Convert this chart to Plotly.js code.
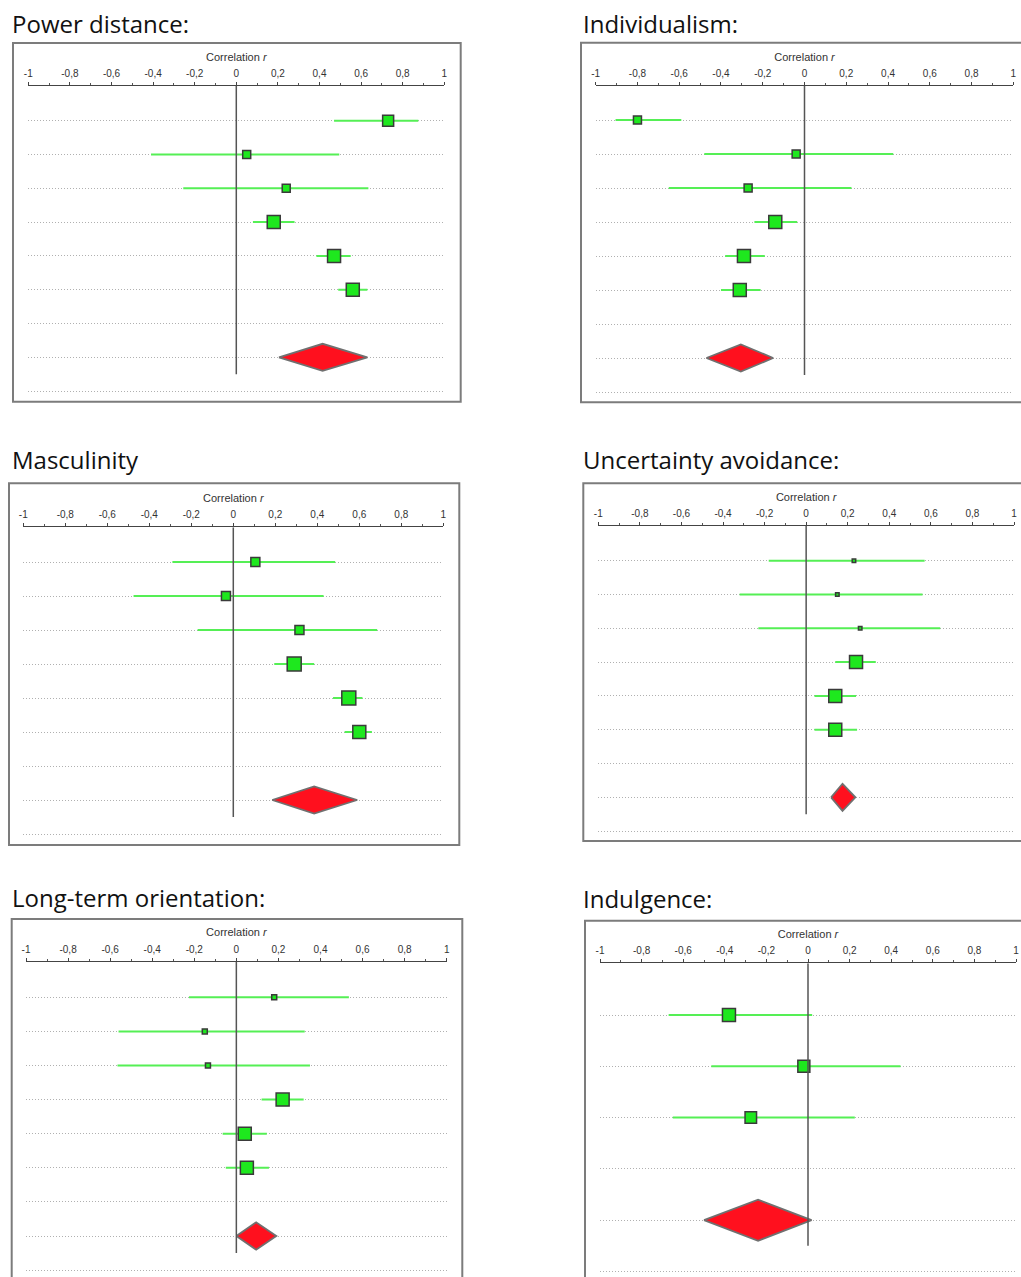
<!DOCTYPE html>
<html><head><meta charset="utf-8">
<script src="https://cdn.plot.ly/plotly-3.0.1.min.js"></script>
<style>html,body{margin:0;padding:0;background:#fff}#chart{width:1021px;height:1277px}</style>
</head><body><div id="chart"></div>
<script>
// ---- tick labels ----
const tickVals = [-1, -0.8, -0.6, -0.4, -0.2, 0, 0.2, 0.4, 0.6, 0.8, 1];
const tickText = ['-1', '-0,8', '-0,6', '-0,4', '-0,2', '0', '0,2', '0,4', '0,6', '0,8', '1'];
const axisTitle = 'Correlation <i>r</i>';
const panelTitles = ['Power distance:', 'Individualism:', 'Masculinity', 'Uncertainty avoidance:', 'Long-term orientation:', 'Indulgence:'];

// ---- Power distance ----
const pdR = [0.73, 0.05, 0.24, 0.18, 0.47, 0.56];
const pdLo = [0.47, -0.41, -0.255, 0.08, 0.385, 0.49];
const pdHi = [0.875, 0.495, 0.635, 0.28, 0.55, 0.63];
const pdWeight = [11, 8, 8, 13, 13, 13];
const pdSummary = [0.415, 0.205, 0.63]; // estimate, lower, upper

// ---- Individualism ----
const idvR = [-0.80, -0.04, -0.27, -0.14, -0.29, -0.31];
const idvLo = [-0.905, -0.48, -0.65, -0.24, -0.38, -0.40];
const idvHi = [-0.59, 0.425, 0.225, -0.035, -0.19, -0.21];
const idvWeight = [8, 8, 8, 13, 13, 13];
const idvSummary = [-0.305, -0.47, -0.15];

// ---- Masculinity ----
const masR = [0.105, -0.035, 0.315, 0.29, 0.55, 0.60];
const masLo = [-0.29, -0.475, -0.17, 0.195, 0.475, 0.53];
const masHi = [0.485, 0.43, 0.685, 0.385, 0.615, 0.66];
const masWeight = [9, 9, 9, 14, 14, 13];
const masSummary = [0.385, 0.185, 0.59];

// ---- Uncertainty avoidance ----
const uaiR = [0.23, 0.15, 0.26, 0.24, 0.14, 0.14];
const uaiLo = [-0.18, -0.32, -0.23, 0.14, 0.04, 0.04];
const uaiHi = [0.57, 0.56, 0.645, 0.335, 0.24, 0.245];
const uaiWeight = [3.5, 3.5, 3.5, 13, 13, 13];
const uaiSummary = [0.175, 0.12, 0.237];

// ---- Long-term orientation ----
const ltoR = [0.18, -0.15, -0.135, 0.22, 0.04, 0.05];
const ltoLo = [-0.225, -0.56, -0.565, 0.12, -0.065, -0.05];
const ltoHi = [0.535, 0.325, 0.35, 0.32, 0.145, 0.155];
const ltoWeight = [5, 5, 5, 13, 13, 13];
const ltoSummary = [0.094, 0.0, 0.19];

// ---- Indulgence ----
const ivrR = [-0.38, -0.02, -0.275];
const ivrLo = [-0.67, -0.465, -0.65];
const ivrHi = [0.02, 0.445, 0.225];
const ivrWeight = [13, 12, 11.5];
const ivrSummary = [-0.24, -0.50, 0.017];

// ---- page geometry (pixels) ----
const W = 1021, H = 1277;
const panels = [
  {title: panelTitles[0], r: pdR, lo: pdLo, hi: pdHi, w: pdWeight, sum: pdSummary, sumRow: 8, nGrid: 9,
   g: {tx: 10, ty: 23, box: [13, 43, 460.7, 401.7], x0: 28.3, x1: 444.3, axisY: 86, row1: 120.7, step: 33.8, bottom: 398}},
  {title: panelTitles[1], r: idvR, lo: idvLo, hi: idvHi, w: idvWeight, sum: idvSummary, sumRow: 8, nGrid: 9,
   g: {tx: 581, ty: 23, box: [581, 42.7, 1026, 402.3], x0: 595.7, x1: 1013.3, axisY: 86, row1: 120, step: 34, bottom: 398}},
  {title: panelTitles[2], r: masR, lo: masLo, hi: masHi, w: masWeight, sum: masSummary, sumRow: 8, nGrid: 9,
   g: {tx: 10, ty: 459, box: [9, 483.3, 459.3, 845], x0: 23.3, x1: 443.3, axisY: 527.3, row1: 562, step: 34, bottom: 841}},
  {title: panelTitles[3], r: uaiR, lo: uaiLo, hi: uaiHi, w: uaiWeight, sum: uaiSummary, sumRow: 8, nGrid: 9,
   g: {tx: 581, ty: 459, box: [583.3, 483.3, 1026, 841], x0: 598.3, x1: 1014, axisY: 526, row1: 560.7, step: 33.8, bottom: 838}},
  {title: panelTitles[4], r: ltoR, lo: ltoLo, hi: ltoHi, w: ltoWeight, sum: ltoSummary, sumRow: 8, nGrid: 9,
   g: {tx: 10, ty: 897.5, box: [11.7, 919, 462.3, 1290], x0: 26, x1: 446.7, axisY: 961.7, row1: 997.3, step: 34.1, bottom: 1277}},
  {title: panelTitles[5], r: ivrR, lo: ivrLo, hi: ivrHi, w: ivrWeight, sum: ivrSummary, sumRow: 5, nGrid: 6,
   g: {tx: 581, ty: 898, box: [585, 920.7, 1026, 1290], x0: 600, x1: 1016, axisY: 963.3, row1: 1015, step: 51.3, bottom: 1277}}
];

const DIAMOND_HALF = 0.4; // half height of summary diamond in row units
const traces = [];
const layout = {
  width: W, height: H, margin: {l: 0, r: 0, t: 0, b: 0},
  paper_bgcolor: '#fff', plot_bgcolor: 'rgba(0,0,0,0)',
  showlegend: false, shapes: [], annotations: [],
  font: {family: 'Liberation Sans, Arial, sans-serif', color: '#333'}
};

panels.forEach((p, i) => {
  const s = i === 0 ? '' : String(i + 1);
  const g = p.g;
  const vTop = 1 - (g.row1 - g.axisY) / g.step;
  const vBot = 1 + (g.bottom - g.row1) / g.step;
  const rows = p.r.map((_, k) => k + 1);
  const gridRows = Array.from({length: p.nGrid}, (_, k) => k + 1);

  layout['xaxis' + s] = {
    domain: [g.x0 / W, g.x1 / W], range: [-1, 1], side: 'top', anchor: 'y' + s,
    showline: true, linecolor: '#444', linewidth: 1.2, mirror: false,
    showgrid: false, zeroline: false,
    tickmode: 'array', tickvals: tickVals, ticktext: tickText,
    ticks: 'outside', ticklen: 3, tickwidth: 1, tickcolor: '#444',
    ticklabelstandoff: 1, ticklabeloverflow: 'allow',
    minor: {tickmode: 'linear', tick0: -1, dtick: 0.1, ticks: 'outside', ticklen: 2, tickcolor: '#555', showgrid: false},
    tickfont: {size: 10, color: '#333', family: 'Liberation Sans, Arial, sans-serif'},
    title: {text: axisTitle, font: {size: 11, color: '#333', family: 'Liberation Sans, Arial, sans-serif'}, standoff: 4},
    fixedrange: true
  };
  layout['yaxis' + s] = {
    domain: [1 - g.bottom / H, 1 - g.axisY / H], range: [vBot, vTop], anchor: 'x' + s,
    tickmode: 'array', tickvals: gridRows, showticklabels: false, ticks: '',
    showgrid: true, gridcolor: '#b0b0b0', griddash: '1px,2px', gridwidth: 1,
    zeroline: false, showline: false, fixedrange: true
  };

  // studies
  traces.push({
    type: 'scatter', mode: 'markers', x: p.r, y: rows,
    xaxis: 'x' + s, yaxis: 'y' + s, cliponaxis: false,
    marker: {symbol: 'square', size: p.w, color: '#1ee81e', opacity: 1, line: {color: '#3a3a3a', width: 1.5}},
    error_x: {type: 'data', symmetric: false,
      array: p.hi.map((h, k) => h - p.r[k]),
      arrayminus: p.lo.map((l, k) => p.r[k] - l),
      color: '#55ef55', thickness: 2, width: 0},
    hoverinfo: 'skip'
  });
  // summary diamond
  const [est, lo, hi] = p.sum;
  const row = p.sumRow;
  traces.push({
    type: 'scatter', mode: 'lines', xaxis: 'x' + s, yaxis: 'y' + s,
    x: [lo, est, hi, est, lo], y: [row, row - DIAMOND_HALF, row, row + DIAMOND_HALF, row],
    fill: 'toself', fillcolor: '#ff101e', line: {color: '#707070', width: 1.8}, hoverinfo: 'skip'
  });

  // zero reference line
  layout.shapes.push({type: 'line', xref: 'x' + s, yref: 'y' + s, x0: 0, x1: 0, y0: vTop, y1: row + 0.5,
    line: {color: '#555', width: 1.5}, layer: 'above'});
  // panel frame
  layout.shapes.push({type: 'rect', xref: 'paper', yref: 'paper',
    x0: g.box[0] / W, x1: g.box[2] / W, y0: 1 - g.box[3] / H, y1: 1 - g.box[1] / H,
    line: {color: '#7c7c7c', width: 2}, layer: 'below'});
  // panel title
  layout.annotations.push({xref: 'paper', yref: 'paper', x: g.tx / W, y: 1 - g.ty / H,
    xanchor: 'left', yanchor: 'middle', showarrow: false, text: p.title,
    font: {family: 'Open Sans, sans-serif', size: 24, color: '#111'}});
});

Plotly.newPlot('chart', traces, layout, {staticPlot: true, displayModeBar: false});
</script>
</body></html>
